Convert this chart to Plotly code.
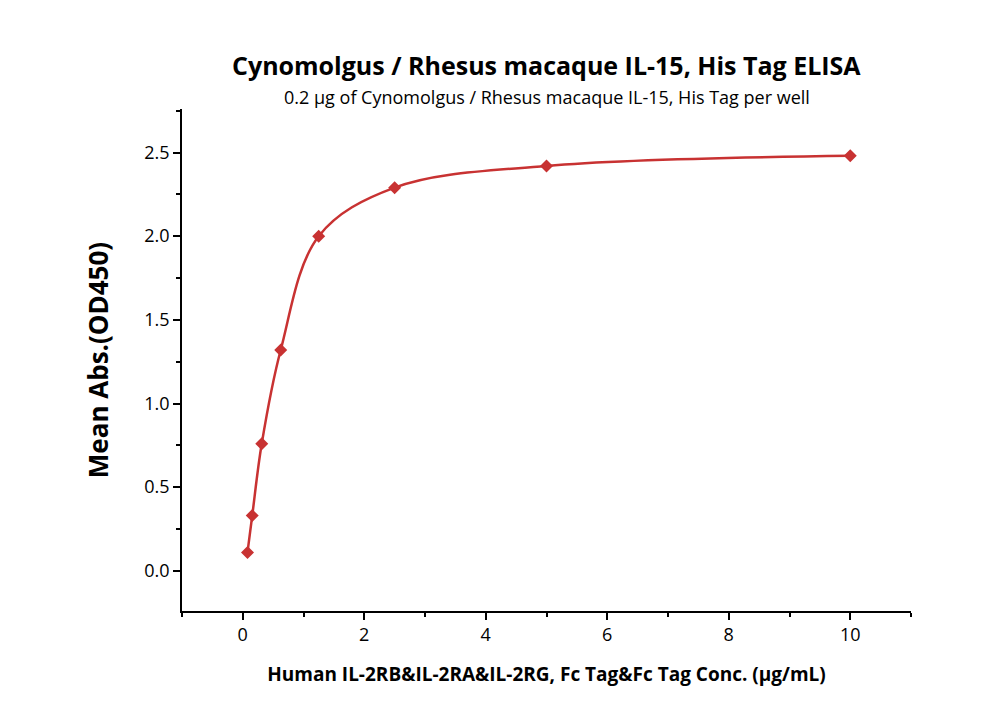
import plotly.graph_objects as go

conc = [0.078, 0.156, 0.3125, 0.625, 1.25, 2.5, 5, 10]
od = [0.11, 0.33, 0.76, 1.32, 2.00, 2.29, 2.42, 2.48]
title = "Cynomolgus / Rhesus macaque IL-15, His Tag ELISA"
subtitle = "0.2 µg of Cynomolgus / Rhesus macaque IL-15, His Tag per well"
color = "#c83232"
font = "Open Sans"

fig = go.Figure()
fig.add_trace(go.Scatter(x=conc, y=od, mode="lines", line=dict(color=color, width=2.5, shape="spline", smoothing=1.0), hoverinfo="skip"))
fig.add_trace(go.Scatter(x=conc, y=od, mode="markers", marker=dict(symbol="diamond", size=10, color=color)))

ax = dict(showline=True, linecolor="black", linewidth=1.5, ticks="outside", ticklen=7, tickwidth=1.5,
          tickcolor="black", showgrid=False, zeroline=False, mirror=False,
          tickfont=dict(family=font, size=18, color="black"))
fig.update_layout(
    width=1000, height=714, plot_bgcolor="white", paper_bgcolor="white", showlegend=False,
    margin=dict(l=174, r=97, t=101, b=111),
    annotations=[
        dict(text="<b>" + title + "</b>", x=0.5, xref="paper", y=38, yref="paper", showarrow=False,
             font=dict(family=font, size=25, color="black")),
        dict(text=subtitle, x=0.5, xref="paper", y=75, yref="paper", showarrow=False,
             font=dict(family=font, size=18, color="black")),
    ],
    xaxis=dict(**ax, range=[-1, 11], tickvals=[0, 2, 4, 6, 8, 10],
               minor=dict(tickvals=[-1, 1, 3, 5, 7, 9, 11], ticks="outside", ticklen=4, tickcolor="black", tickwidth=1.5),
               title=dict(text="<b>Human IL-2RB&IL-2RA&IL-2RG, Fc Tag&Fc Tag Conc. (µg/mL)</b>", font=dict(family=font, size=19, color="black"), standoff=22)),
    yaxis=dict(**ax, range=[-0.24, 2.76], tickvals=[0, 0.5, 1, 1.5, 2, 2.5], tickformat=".1f",
               minor=dict(tickvals=[-0.25, 0.25, 0.75, 1.25, 1.75, 2.25, 2.75], ticks="outside", ticklen=4, tickcolor="black", tickwidth=1.5),
               title=dict(text="<b>Mean Abs.(OD450)</b>", font=dict(family=font, size=26, color="black"), standoff=28)),
)
# place title annotations in pixel terms
H_plot = 714 - 101 - 111
for a in fig.layout.annotations:
    a.y = 1 + (101 - a.y) / H_plot
fig.write_html("out.html")
